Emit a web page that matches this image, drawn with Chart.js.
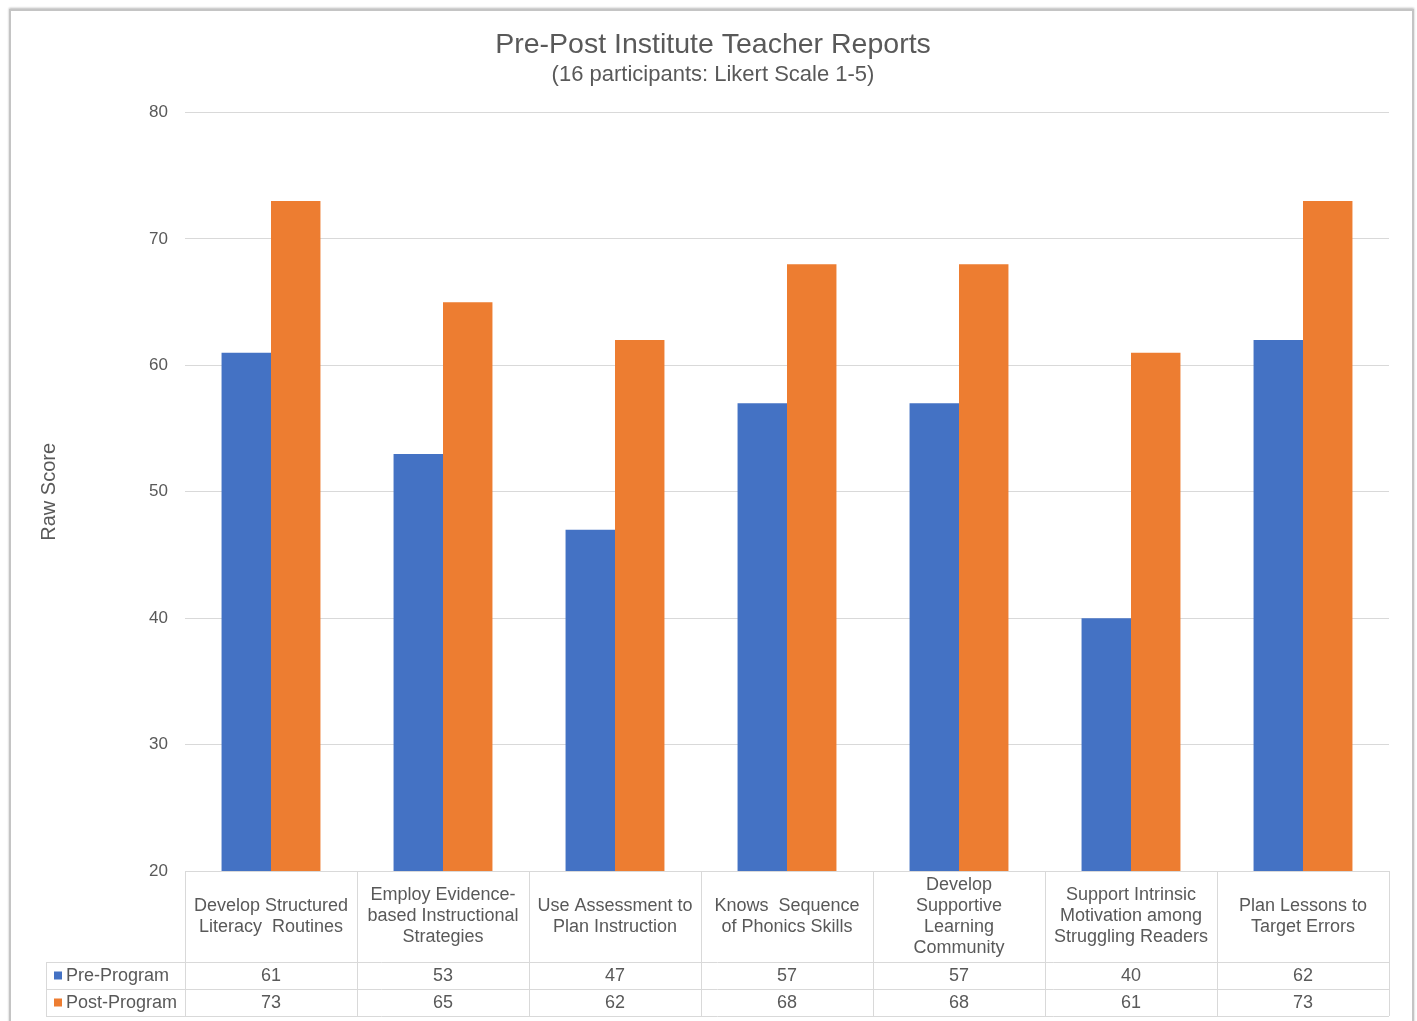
<!DOCTYPE html>
<html lang="en">
  <head>
    <meta charset="UTF-8" />
    <title>Pre-Post Institute Teacher Reports</title>
    <script src="https://cdn.jsdelivr.net/npm/chart.js@4.4.1/dist/chart.umd.min.js"></script>
    <style>
      body { margin: 0; background: #fff; }
      #frame {
        position: absolute; left: 9px; top: 9px; width: 1401px; height: 1030px;
        border: 2px solid #c4c4c4; box-shadow: 0 -1px 2px #bbb;
      }
      #wrap { position: absolute; left: 0; top: 0; width: 1417px; height: 1021px; }
    </style>
  </head>
  <body>
    <div id="frame"></div>
    <div id="wrap"><canvas id="chart-area" width="1417" height="1021"></canvas></div>
    <script>
      const categories = [
        ["Develop Structured", "Literacy  Routines"],
        ["Employ Evidence-", "based Instructional", "Strategies"],
        ["Use Assessment to", "Plan Instruction"],
        ["Knows  Sequence", "of Phonics Skills"],
        ["Develop", "Supportive", "Learning", "Community"],
        ["Support Intrinsic", "Motivation among", "Struggling Readers"],
        ["Plan Lessons to", "Target Errors"],
      ];
      const preProgram = [61, 53, 47, 57, 57, 40, 62];
      const postProgram = [73, 65, 62, 68, 68, 61, 73];
      const seriesNames = ["Pre-Program", "Post-Program"];
      const yTicks = [20, 30, 40, 50, 60, 70, 80];

      const textColor = "#595959";
      const lineColor = "#d9d9d9";
      const fontFamily = "'Liberation Sans', Arial, sans-serif";

      // draws the data table under the plot, aligned on the x scale
      const dataTable = {
        id: "dataTable",
        afterDraw(chart) {
          const ctx = chart.ctx;
          const area = chart.chartArea;
          const x = chart.scales.x;
          const n = categories.length;
          const colW = (area.right - area.left) / n;
          const top = area.bottom;
          const headH = 91;
          const rowH = 27;
          const tableLeft = 46;
          const r1 = top + headH;
          const r2 = r1 + rowH;
          const r3 = r2 + rowH;

          ctx.save();
          ctx.strokeStyle = lineColor;
          ctx.lineWidth = 1;
          ctx.beginPath();
          // horizontal lines
          ctx.moveTo(area.left, top + 0.5); ctx.lineTo(area.right, top + 0.5);
          [r1, r2, r3].forEach((y) => {
            ctx.moveTo(tableLeft, y + 0.5); ctx.lineTo(area.right, y + 0.5);
          });
          // vertical lines
          ctx.moveTo(tableLeft + 0.5, r1); ctx.lineTo(tableLeft + 0.5, r3);
          for (let i = 0; i <= n; i++) {
            const vx = Math.round(area.left + i * colW) + 0.5;
            ctx.moveTo(vx, top); ctx.lineTo(vx, r3);
          }
          ctx.stroke();

          ctx.fillStyle = textColor;
          ctx.font = "18px " + fontFamily;
          ctx.textAlign = "center";
          ctx.textBaseline = "middle";
          const lh = 21;
          categories.forEach((lines, i) => {
            const cx = x.getPixelForValue(i);
            const y0 = top + headH / 2 - ((lines.length - 1) * lh) / 2;
            lines.forEach((t, j) => ctx.fillText(t, cx, y0 + j * lh));
            ctx.fillText(String(preProgram[i]), cx, r1 + rowH / 2 + 1);
            ctx.fillText(String(postProgram[i]), cx, r2 + rowH / 2 + 1);
          });

          // legend keys in the first column
          ctx.textAlign = "left";
          chart.data.datasets.forEach((ds, k) => {
            const cy = r1 + rowH / 2 + k * rowH;
            ctx.fillStyle = ds.backgroundColor;
            ctx.fillRect(54, cy - 4, 8, 8);
            ctx.fillStyle = textColor;
            ctx.fillText(seriesNames[k], 66, cy + 1);
          });
          ctx.restore();
        },
      };

      const ctx = document.getElementById("chart-area").getContext("2d");
      const chart = new Chart(ctx, {
        type: "bar",
        data: {
          labels: categories,
          datasets: [
            {
              label: seriesNames[0],
              data: preProgram,
              backgroundColor: "#4472C4",
              categoryPercentage: 0.575,
              barPercentage: 1,
            },
            {
              label: seriesNames[1],
              data: postProgram,
              backgroundColor: "#ED7D31",
              categoryPercentage: 0.575,
              barPercentage: 1,
            },
          ],
        },
        options: {
          responsive: false,
          animation: false,
          layout: { padding: { left: 37, right: 28, top: 28, bottom: 150 } },
          plugins: {
            legend: { display: false },
            tooltip: { enabled: false },
            title: {
              display: true,
              text: "Pre-Post Institute Teacher Reports",
              color: textColor,
              font: { family: fontFamily, size: 28.5, weight: "normal" },
              padding: { top: 0, bottom: 0 },
            },
            subtitle: {
              display: true,
              text: "(16 participants: Likert Scale 1-5)",
              color: textColor,
              font: { family: fontFamily, size: 22, weight: "normal" },
              padding: { top: 0, bottom: 24 },
            },
          },
          scales: {
            x: { display: false },
            y: {
              min: 20,
              max: 80,
              afterFit(scale) { scale.width = 148; },
              afterBuildTicks(scale) { scale.ticks = yTicks.map((v) => ({ value: v })); },
              grid: { color: lineColor, drawTicks: false },
              border: { display: false },
              ticks: {
                color: textColor,
                padding: 17,
                font: { family: fontFamily, size: 17 },
              },
              title: {
                display: true,
                text: "Raw Score",
                color: textColor,
                font: { family: fontFamily, size: 20 },
                padding: { top: 0, bottom: 0 },
              },
            },
          },
        },
        plugins: [dataTable],
      });
    </script>
  </body>
</html>
